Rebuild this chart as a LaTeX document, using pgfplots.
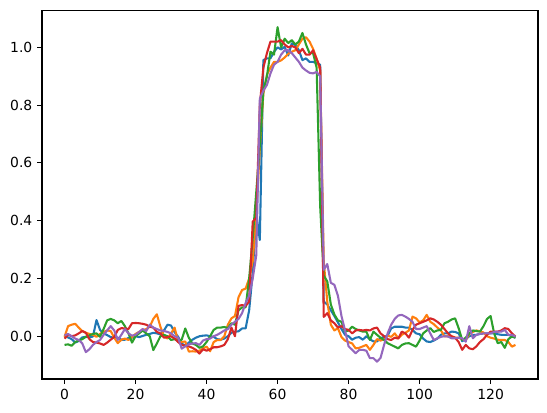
\documentclass[border=0pt]{standalone}
\usepackage{fontspec}
\setmainfont{DejaVu Sans}
\usepackage{pgfplots}
\usepackage{pgfplotstable}
\pgfplotsset{compat=1.18}
\definecolor{C0}{HTML}{1F77B4}
\definecolor{C1}{HTML}{FF7F0E}
\definecolor{C2}{HTML}{2CA02C}
\definecolor{C3}{HTML}{D62728}
\definecolor{C4}{HTML}{9467BD}

% five noisy pulses, x = 0..127
\pgfplotstableread{
x b o g r p
0 0.000 -0.002 -0.030 -0.008 0.003
1 -0.004 0.035 -0.028 0.005 0.008
2 -0.010 0.040 -0.033 0.000 0.000
3 -0.022 0.043 -0.020 0.003 -0.008
4 -0.016 0.030 -0.015 0.010 -0.013
5 -0.004 0.018 -0.010 0.018 -0.025
6 -0.002 0.012 -0.002 0.012 -0.055
7 -0.004 0.008 0.003 -0.010 -0.045
8 -0.001 0.005 0.008 -0.020 -0.030
9 0.056 -0.002 0.010 -0.022 -0.020
10 0.022 0.008 -0.002 -0.025 -0.013
11 0.010 0.015 0.025 -0.030 0.005
12 0.004 0.020 0.055 -0.022 0.020
13 -0.003 0.018 0.060 -0.012 0.035
14 -0.005 -0.005 0.055 -0.002 0.020
15 -0.005 -0.024 0.045 0.022 -0.013
16 -0.012 -0.012 0.053 0.028 0.005
17 -0.012 -0.008 0.035 0.027 0.025
18 -0.006 -0.013 0.010 0.025 0.010
19 -0.005 -0.003 -0.022 0.045 0.002
20 0.000 0.008 0.000 0.046 0.005
21 -0.003 0.015 0.010 0.045 0.015
22 0.001 0.020 0.020 0.043 0.025
23 0.005 0.025 0.010 0.040 0.018
24 0.008 0.033 0.000 0.033 0.040
25 0.012 0.060 -0.048 0.030 0.030
26 0.010 0.076 -0.025 0.015 0.025
27 0.006 0.033 0.000 0.010 0.020
28 0.020 0.000 0.005 -0.005 0.018
29 0.040 -0.008 0.000 -0.003 0.015
30 0.037 0.010 -0.013 0.000 0.010
31 0.014 0.030 -0.010 -0.008 0.000
32 -0.002 -0.020 -0.015 -0.020 -0.005
33 -0.026 -0.020 -0.012 -0.030 -0.043
34 -0.032 -0.018 0.027 -0.033 -0.035
35 -0.022 -0.053 -0.005 -0.035 -0.028
36 -0.012 -0.052 -0.025 -0.040 -0.025
37 -0.005 -0.053 -0.030 -0.047 -0.024
38 0.000 -0.050 -0.040 -0.060 -0.030
39 0.002 -0.042 -0.035 -0.045 -0.015
40 0.003 -0.036 -0.020 -0.050 -0.010
41 0.000 -0.052 0.000 -0.045 -0.008
42 -0.002 -0.020 0.022 -0.038 0.000
43 -0.010 -0.013 0.030 -0.038 0.005
44 -0.012 -0.013 0.030 -0.035 0.012
45 -0.008 0.000 0.032 -0.030 0.020
46 0.000 0.040 0.028 -0.010 0.025
47 0.012 0.062 0.045 0.030 0.040
48 0.016 0.070 0.040 0.000 0.050
49 0.017 0.135 0.090 0.105 0.060
50 0.027 0.160 0.100 0.108 0.080
51 0.027 0.165 0.100 0.105 0.115
52 0.090 0.200 0.200 0.120 0.140
53 0.220 0.260 0.340 0.397 0.200
54 0.425 0.420 0.500 0.410 0.280
55 0.333 0.650 0.660 0.800 0.823
56 0.956 0.840 0.850 0.930 0.850
57 0.962 0.905 0.900 0.980 0.870
58 0.962 0.930 0.985 1.020 0.910
59 0.985 0.950 0.975 1.020 0.940
60 1.000 0.950 1.070 1.020 0.950
61 0.993 0.955 1.000 1.025 0.975
62 1.002 0.965 1.030 1.010 0.990
63 0.972 0.978 1.015 1.000 0.990
64 1.014 0.985 1.025 1.005 0.980
65 1.008 0.990 1.010 1.000 0.965
66 0.990 1.010 1.020 0.980 0.950
67 0.956 1.030 1.050 0.995 0.930
68 0.962 1.035 1.010 0.975 0.920
69 0.950 1.020 0.980 0.975 0.912
70 0.950 0.995 0.980 0.990 0.910
71 0.945 0.960 0.930 0.960 0.915
72 0.940 0.920 0.450 0.930 0.900
73 0.120 0.260 0.210 0.067 0.230
74 0.110 0.120 0.190 0.080 0.250
75 0.090 0.040 0.110 0.055 0.185
76 0.070 0.020 0.075 0.045 0.178
77 0.048 0.028 0.055 0.030 0.140
78 0.025 -0.003 0.050 0.035 0.070
79 0.005 -0.015 0.016 0.025 0.020
80 0.000 -0.020 0.020 0.022 -0.035
81 -0.012 -0.025 0.033 0.010 -0.047
82 -0.005 -0.042 0.025 0.020 -0.059
83 -0.003 -0.040 0.020 0.022 -0.047
84 -0.012 -0.035 0.016 0.020 -0.047
85 0.000 -0.030 0.016 0.022 -0.050
86 -0.010 -0.047 -0.013 0.020 -0.076
87 -0.018 -0.030 0.016 0.027 -0.076
88 -0.018 -0.010 0.005 0.030 -0.088
89 -0.007 -0.015 -0.005 0.010 -0.075
90 -0.002 -0.010 -0.013 0.000 -0.030
91 0.002 0.002 -0.024 -0.010 0.010
92 0.027 -0.002 -0.030 -0.013 0.040
93 0.033 0.010 -0.036 -0.005 0.060
94 0.033 -0.007 -0.042 -0.008 0.072
95 0.033 0.005 -0.030 0.016 0.074
96 0.030 0.012 -0.025 0.010 0.068
97 0.030 0.020 -0.024 -0.005 0.060
98 0.022 0.068 -0.030 0.022 0.050
99 0.010 0.062 -0.036 0.040 0.025
100 0.007 0.048 -0.015 0.045 0.025
101 -0.008 0.055 0.010 0.050 0.030
102 -0.018 0.074 0.020 0.055 0.035
103 -0.020 0.050 0.028 0.062 0.010
104 -0.015 0.042 0.015 0.058 -0.013
105 -0.008 0.030 0.020 0.050 -0.007
106 0.005 0.020 0.022 0.040 -0.002
107 0.010 0.000 0.045 0.025 0.000
108 0.010 0.000 0.050 0.010 -0.001
109 0.016 0.000 0.058 0.000 -0.007
110 0.015 -0.005 0.062 -0.005 -0.007
111 0.010 -0.005 0.028 -0.020 -0.005
112 -0.017 -0.010 -0.013 -0.047 -0.007
113 -0.010 -0.013 -0.005 -0.030 -0.019
114 0.000 0.008 0.010 -0.042 0.035
115 0.004 0.015 0.020 -0.045 -0.007
116 0.005 0.020 0.018 -0.035 0.005
117 0.008 0.017 0.016 -0.020 0.008
118 0.010 0.013 0.035 -0.010 0.010
119 0.010 0.000 0.060 0.005 0.010
120 0.010 -0.005 0.070 0.016 0.010
121 0.010 -0.008 0.010 0.016 0.015
122 0.007 -0.012 -0.024 0.016 0.016
123 0.005 -0.013 -0.020 0.020 0.016
124 0.005 -0.013 -0.040 0.028 0.022
125 0.005 -0.020 -0.010 0.025 0.005
126 0.000 -0.036 -0.001 0.010 0.005
127 -0.005 -0.030 -0.005 -0.001 -0.001
}\pulses

\begin{document}
\fontsize{13.9bp}{16bp}\selectfont
\begin{tikzpicture}
\path (-42bp,-34bp) rectangle (505bp,379bp);
\begin{axis}[
    at={(0,0)}, anchor=south west,
    scale only axis,
    width=496bp, height=368.3bp,
    xmin=-6.35, xmax=133.35,
    ymin=-0.148, ymax=1.127,
    xtick={0,20,40,60,80,100,120},
    ytick={0,0.2,0.4,0.6,0.8,1},
    tick pos=left,
    tick align=outside,
    major tick length=4.86bp,
    axis line style={line width=1.1bp},
    every tick/.style={black, line width=1.1bp},
    /pgf/number format/assume math mode=true,
    yticklabel style={/pgf/number format/.cd, fixed, fixed zerofill, precision=1},
    every axis plot/.append style={line width=2.08bp, line join=round},
]
\addplot[C0] table[x=x, y=b] {\pulses};
\addplot[C1] table[x=x, y=o] {\pulses};
\addplot[C2] table[x=x, y=g] {\pulses};
\addplot[C3] table[x=x, y=r] {\pulses};
\addplot[C4] table[x=x, y=p] {\pulses};
\end{axis}
\end{tikzpicture}
\end{document}
